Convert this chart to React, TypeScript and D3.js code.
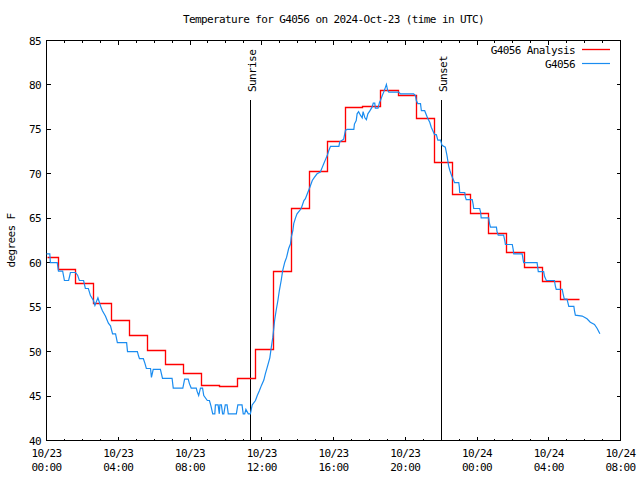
import React, { useRef, useEffect } from "react";
import * as d3 from "d3";

// minutes after 2024-10-23 00:00 UTC
const blueMinutes = [
  0, 11, 13, 36, 40, 54, 60, 74, 80, 97, 104, 110, 124, 130, 140, 147, 157, 162, 172, 181,
  187, 197, 207, 214, 221, 231, 237, 268, 271, 304, 308, 311, 324, 329, 334, 348, 351, 357, 381, 388,
  420, 424, 456, 462, 474, 478, 484, 501, 504, 509, 515, 522, 526, 538, 545, 550, 556, 563, 565, 574,
  578, 580, 585, 589, 593, 598, 604, 608, 635, 640, 654, 658, 663, 667, 675, 682, 688, 699, 705, 712,
  719, 727, 732, 738, 747, 752, 757, 763, 768, 774, 779, 785, 790, 797, 803, 810, 816, 819, 824, 827,
  833, 838, 852, 861, 866, 874, 881, 889, 896, 905, 916, 922, 927, 933, 939, 944, 950, 978, 981, 994,
  1000, 1006, 1028, 1030, 1036, 1039, 1044, 1050, 1056, 1059, 1065, 1070, 1075, 1081, 1089, 1093, 1098, 1100, 1109, 1114,
  1117, 1123, 1128, 1134, 1137, 1141, 1145, 1178, 1184, 1228, 1234, 1237, 1242, 1251, 1254, 1265, 1271, 1275, 1282, 1287,
  1293, 1298, 1304, 1309, 1318, 1323, 1334, 1340, 1345, 1349, 1355, 1362, 1365, 1379, 1381, 1382, 1399, 1401, 1404, 1424,
  1427, 1429, 1449, 1452, 1454, 1479, 1482, 1485, 1505, 1507, 1511, 1529, 1533, 1535, 1558, 1561, 1563, 1591, 1594, 1596,
  1641, 1643, 1645, 1663, 1666, 1672, 1699, 1702, 1705, 1725, 1728, 1732, 1741, 1744, 1747, 1764, 1766, 1769, 1792, 1808,
  1819, 1833, 1842, 1851,
];
const blueTemps = [
  61.0, 61.0, 60.0, 60.0, 59.05, 59.05, 58.0, 58.0, 58.9, 58.9, 58.6, 58.0, 58.0, 57.1, 57.1, 56.3, 55.75, 55.2, 56.05, 55.1,
  54.6, 54.0, 53.2, 52.9, 52.0, 52.0, 51.0, 51.0, 50.0, 50.0, 49.5, 49.2, 49.2, 48.7, 48.1, 48.1, 47.1, 48.0, 48.0, 47.0,
  47.0, 45.9, 45.9, 46.9, 46.9, 46.4, 45.9, 45.9, 45.5, 45.06, 45.9, 45.9, 45.06, 44.5, 44.5, 43.9, 43.0, 43.0, 44.0, 44.0,
  43.0, 44.0, 44.0, 43.0, 43.0, 44.0, 44.0, 43.0, 43.0, 44.0, 44.0, 43.0, 43.0, 43.5, 43.0, 43.0, 44.0, 44.5, 45.06, 45.6,
  46.2, 46.8, 47.5, 48.2, 49.3, 50.5, 51.6, 53.5, 54.6, 55.75, 56.9, 58.0, 59.1, 60.06, 60.6, 61.6, 62.1, 62.9, 63.6, 64.4,
  65.05, 65.5, 66.1, 67.0, 67.2, 67.9, 68.5, 69.25, 69.6, 70.0, 70.2, 70.7, 71.1, 71.6, 72.05, 72.6, 73.1, 73.1, 73.6, 73.9,
  74.9, 75.0, 75.0, 75.6, 76.0, 76.75, 77.0, 76.6, 76.3, 77.0, 76.3, 76.1, 76.75, 77.05, 77.5, 77.95, 77.95, 77.4, 77.4, 78.06,
  78.25, 78.8, 79.2, 79.75, 80.05, 79.4, 79.2, 79.2, 79.0, 79.0, 78.8, 78.25, 77.9, 77.9, 77.1, 77.1, 76.6, 76.25, 75.8, 75.25,
  74.8, 74.4, 74.4, 73.8, 73.8, 73.2, 73.0, 72.0, 70.9, 70.4, 69.8, 69.25, 69.0, 69.0, 68.5, 67.9, 67.9, 67.4, 67.1, 67.1,
  66.6, 66.1, 66.1, 65.7, 65.05, 65.05, 64.4, 64.0, 64.0, 63.5, 63.1, 63.1, 62.5, 62.05, 62.05, 61.5, 61.0, 61.0, 60.4, 60.0,
  60.0, 59.5, 59.0, 59.0, 58.45, 58.0, 58.0, 57.4, 57.0, 57.0, 56.5, 55.9, 55.9, 55.5, 55.1, 55.1, 54.6, 54.1, 54.0, 53.7,
  53.3, 53.05, 52.6, 52.0,
];

// hourly analysis, each value held until the next time
const redMinutes = [
  0, 37, 97, 157, 217, 277, 337, 397, 457, 517, 577, 637, 697, 757, 817, 877,
  937, 997, 1057, 1117, 1177, 1237, 1297, 1357, 1417, 1477, 1537, 1597, 1657, 1717, 1782,
];
const redTemps = [
  60.7, 59.3, 57.7, 55.5, 53.5, 51.9, 50.2, 48.6, 47.6, 46.2, 46.1, 47.05, 50.3, 59.1, 66.2, 70.3,
  73.7, 77.55, 77.65, 79.4, 78.9, 76.3, 71.3, 67.75, 65.6, 63.4, 61.25, 59.55, 58.0, 55.95, 55.95,
];

const yTicks = [40, 45, 50, 55, 60, 65, 70, 75, 80, 85];
const sunEvents = [
  { label: "Sunrise", minute: 682 },
  { label: "Sunset", minute: 1321 },
];
const seriesNames = ["G4056 Analysis", "G4056"];
const seriesColors = ["#ff0000", "#1a8cf0"];
const seriesWidths = [1.35, 1.2];

const t0 = Date.UTC(2024, 9, 23, 0, 0);
const toDate = (m: number) => new Date(t0 + m * 60000);
const FONT = "'DejaVu Sans Mono', monospace";

export default function App() {
  const svgRef = useRef<SVGSVGElement>(null);

  useEffect(() => {
    if (!svgRef.current) return;
    const svg = d3.select(svgRef.current);
    svg.selectAll("*").remove();

    const left = 46.5, right = 620.5, top = 40.5, bottom = 440.5;

    const x = d3.scaleUtc()
      .domain([toDate(0), toDate(32 * 60)])
      .range([left, right]);
    const y = d3.scaleLinear().domain([40, 85]).range([bottom, top]);

    svg.append("rect").attr("width", 640).attr("height", 480).attr("fill", "#fff");

    const txt = (sel: any) => sel
      .attr("font-family", FONT)
      .attr("font-size", 11)
      .attr("letter-spacing", -0.6)
      .attr("fill", "#000");

    // title
    svg.append("text").call(txt)
      .attr("x", (left + right) / 2).attr("y", 23)
      .attr("text-anchor", "middle")
      .text("Temperature for G4056 on 2024-Oct-23 (time in UTC)");

    // y label
    svg.append("text").call(txt)
      .attr("transform", `translate(15,${(top + bottom) / 2}) rotate(-90)`)
      .attr("text-anchor", "middle")
      .text("degrees F");

    const g = svg.append("g").attr("shape-rendering", "crispEdges");

    // y ticks, both sides
    g.selectAll(".yt").data(yTicks.slice(1, -1)).join("path")
      .attr("d", (d) => `M${left},${y(d)}h4M${right},${y(d)}h-4`)
      .attr("stroke", "#000");
    svg.selectAll(".yl").data(yTicks).join("text").call(txt)
      .attr("x", 41).attr("y", (d) => y(d) + 4)
      .attr("text-anchor", "end")
      .text((d) => String(d));

    // x ticks: minor every hour, major every 4 hours
    const hours = x.ticks(d3.utcHour.every(1)!);
    const inner = hours.filter((d) => +d > +x.domain()[0] && +d < +x.domain()[1]);
    g.selectAll(".xt").data(inner).join("path")
      .attr("d", (d) => {
        const len = d.getUTCHours() % 4 === 0 ? 4 : 2;
        return `M${x(d)},${bottom}v${-len}M${x(d)},${top}v${len}`;
      })
      .attr("stroke", "#000");

    const majors = x.ticks(d3.utcHour.every(4)!);
    const fDay = d3.utcFormat("%m/%d");
    const fHour = d3.utcFormat("%H:%M");
    const xl = svg.selectAll(".xl").data(majors).join("g")
      .attr("transform", (d) => `translate(${x(d)},0)`);
    xl.append("text").call(txt).attr("text-anchor", "middle").attr("y", 457).text((d) => fDay(d));
    xl.append("text").call(txt).attr("text-anchor", "middle").attr("y", 471).text((d) => fHour(d));

    // sunrise / sunset
    sunEvents.forEach((s) => {
      const sx = Math.round(x(toDate(s.minute))) + 0.5;
      g.append("line")
        .attr("x1", sx).attr("x2", sx).attr("y1", 99.5).attr("y2", bottom)
        .attr("stroke", "#000");
      svg.append("text").call(txt)
        .attr("transform", `translate(${sx + 5},92) rotate(-90)`)
        .text(s.label);
    });

    // series
    const redPts = redMinutes.map((m, i) => [m, redTemps[i]] as [number, number]);
    const bluePts = blueMinutes.map((m, i) => [m, blueTemps[i]] as [number, number]);

    const redLine = d3.line<[number, number]>()
      .curve(d3.curveStepAfter)
      .x((d) => Math.round(x(toDate(d[0]))) + 0.5)
      .y((d) => Math.round(y(d[1])) + 0.5);
    const blueLine = d3.line<[number, number]>()
      .x((d) => x(toDate(d[0])))
      .y((d) => y(d[1]));

    const lines = svg.append("g");
    lines.append("path").datum(redPts)
      .attr("d", redLine).attr("fill", "none")
      .attr("stroke", seriesColors[0]).attr("stroke-width", seriesWidths[0]);
    lines.append("path").datum(bluePts)
      .attr("d", blueLine).attr("fill", "none")
      .attr("stroke", seriesColors[1]).attr("stroke-width", seriesWidths[1]);

    // frame
    g.append("rect")
      .attr("x", left).attr("y", top)
      .attr("width", right - left).attr("height", bottom - top)
      .attr("fill", "none").attr("stroke", "#000");

    // legend
    seriesNames.forEach((name, i) => {
      const ly = 49.5 + i * 14;
      svg.append("text").call(txt)
        .attr("x", 575).attr("y", ly + 4)
        .attr("text-anchor", "end")
        .text(name);
      lines.append("line")
        .attr("x1", 582).attr("x2", 610).attr("y1", ly).attr("y2", ly)
        .attr("stroke", seriesColors[i]).attr("stroke-width", seriesWidths[i]);
    });
  }, []);

  return (
    <svg
      ref={svgRef}
      width={640}
      height={480}
      style={{ position: "absolute", left: 0, top: 0 }}
    />
  );
}
